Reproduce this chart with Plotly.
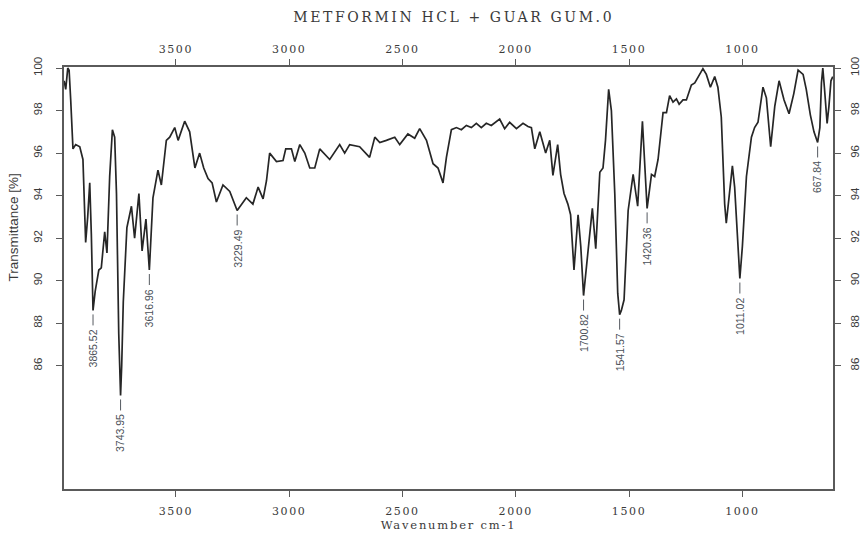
import plotly.graph_objects as go

# FTIR spectrum: wavenumber (cm-1) and transmittance (%)
wavenumber = [
    3993, 3986, 3977, 3971, 3964, 3954, 3942, 3924, 3910, 3898, 3889, 3880, 3873,
    3865.52, 3856, 3840, 3829, 3814, 3804, 3792, 3780, 3770, 3762, 3752, 3743.95,
    3739, 3732, 3726, 3716, 3696, 3682, 3663, 3649, 3632, 3616.96, 3601, 3579,
    3564, 3542, 3527, 3505, 3490, 3461, 3439, 3416, 3395, 3377, 3358, 3340, 3321,
    3292, 3262, 3229.49, 3189, 3160, 3137, 3115, 3100, 3086, 3056, 3027, 3015,
    2990, 2975, 2953, 2931, 2909, 2887, 2865, 2821, 2777, 2755, 2733, 2689, 2645,
    2622, 2600, 2571, 2534, 2512, 2476, 2446, 2424, 2394, 2365, 2343, 2321, 2306,
    2284, 2262, 2240, 2218, 2196, 2174, 2152, 2130, 2108, 2071, 2049, 2027, 1997,
    1968, 1946, 1931, 1916, 1894, 1868, 1850, 1836, 1815, 1802, 1787, 1770, 1758,
    1743, 1725, 1713, 1700.82, 1681, 1662, 1647, 1629, 1615, 1604, 1590, 1578,
    1563, 1550, 1541.57, 1534, 1522, 1504, 1482, 1462, 1441, 1420.36, 1401, 1387,
    1372, 1350, 1335, 1321, 1306, 1291, 1279, 1262, 1247, 1225, 1210, 1191, 1174,
    1159, 1141, 1122, 1108, 1093, 1086, 1078, 1071, 1059, 1044, 1034, 1019,
    1011.02, 1000, 982, 960, 946, 931, 909, 894, 875, 857, 838, 816, 794, 773,
    754, 732, 718, 700, 684, 667.84, 658, 651, 645, 638, 626, 618, 609, 601,
]
transmittance = [
    99.4, 99.0, 100.0, 99.9, 98.5, 96.2, 96.4, 96.3, 95.7, 91.8, 93.0, 94.6, 92.2,
    88.6, 89.5, 90.5, 90.6, 92.3, 91.3, 94.9, 97.1, 96.75, 94.1, 87.5, 84.6,
    86.0, 89.0, 90.6, 92.5, 93.5, 92.0, 94.1, 91.4, 92.9, 90.5, 93.9, 95.2,
    94.5, 96.6, 96.75, 97.2, 96.6, 97.5, 97.0, 95.3, 96.0, 95.3, 94.8, 94.6, 93.7,
    94.5, 94.2, 93.3, 93.9, 93.6, 94.4, 93.85, 94.7, 96.0, 95.6, 95.65, 96.2,
    96.2, 95.6, 96.4, 96.0, 95.3, 95.3, 96.2, 95.7, 96.4, 96.0, 96.4, 96.3, 95.8,
    96.75, 96.5, 96.6, 96.75, 96.4, 96.9, 96.7, 97.15, 96.6, 95.5, 95.3, 94.6, 95.8,
    97.1, 97.2, 97.1, 97.3, 97.2, 97.4, 97.2, 97.4, 97.3, 97.6, 97.15, 97.45, 97.15,
    97.4, 97.25, 97.2, 96.2, 97.0, 96.0, 96.6, 94.95, 96.4, 95.0, 94.1, 93.6, 93.1,
    90.5, 93.1, 91.6, 89.3, 91.3, 93.4, 91.5, 95.1, 95.3, 96.6, 99.0, 98.0,
    94.1, 89.4, 88.4, 88.6, 89.1, 93.3, 95.0, 93.5, 97.5, 93.4, 95.0, 94.9,
    95.7, 97.9, 97.9, 98.7, 98.4, 98.55, 98.3, 98.5, 98.5, 99.2, 99.3, 99.65, 99.97,
    99.7, 99.1, 99.6, 99.1, 97.7, 95.65, 93.6, 92.7, 93.8, 95.4, 94.4, 91.6,
    90.1, 91.6, 94.9, 96.75, 97.2, 97.45, 99.1, 98.6, 96.3, 98.2, 99.4, 98.5, 97.85, 98.8,
    99.9, 99.7, 99.0, 97.8, 97.0, 96.5, 97.2, 99.3, 100.0, 99.1, 97.4, 98.2, 99.4, 99.6,
]

# Picked absorption bands
peak_wavenumbers = [3865.52, 3743.95, 3616.96, 3229.49, 1700.82, 1541.57, 1420.36, 1011.02, 667.84]

# Axis ticks
x_ticks = [3500, 3000, 2500, 2000, 1500, 1000]
y_ticks = [100, 98, 96, 94, 92, 90, 88, 86]

title_text = "METFORMIN HCL + GUAR GUM.0"
x_title = "Wavenumber cm-1"
y_title = "Transmittance [%]"

X_RANGE = [3993.6, 600]
Y_RANGE = [80.2, 100.05]

AXIS_COLOR = "#5a5a5a"
TEXT_COLOR = "#3a3a3a"
SERIF = "DejaVu Serif"
SANS = "Liberation Sans"

fig = go.Figure()
fig.add_trace(go.Scatter(
    x=wavenumber, y=transmittance, mode="lines",
    line=dict(color="#262626", width=1.7),
    hoverinfo="x+y", showlegend=False,
))
# transparent copy that carries the top / right axes
fig.add_trace(go.Scatter(
    x=wavenumber, y=transmittance, mode="lines", xaxis="x2", yaxis="y2",
    line=dict(width=0), opacity=0, hoverinfo="skip", showlegend=False,
))

# chart title (annotation 0) and y-axis title (annotation 1)
fig.add_annotation(
    text=title_text, xref="paper", yref="paper", x=0.507, y=1, yshift=50,
    showarrow=False, xanchor="center", yanchor="middle",
    font=dict(family=SERIF, size=14, color=TEXT_COLOR),
)
fig.add_annotation(
    text=y_title, xref="paper", yref="y", x=0, xshift=-50, y=92.5,
    showarrow=False, textangle=-90, xanchor="center", yanchor="middle",
    font=dict(family=SANS, size=13.5, color=TEXT_COLOR),
)

# peak markers: short dash plus rotated wavenumber label under each band
lookup = dict(zip(wavenumber, transmittance))
for wn in peak_wavenumbers:
    t = lookup[wn]
    fig.add_shape(
        type="line", xref="x", yref="y", ysizemode="pixel", yanchor=t,
        x0=wn, x1=wn, y0=-4, y1=-15,
        line=dict(color="#555a60", width=1),
    )
    fig.add_annotation(
        x=wn, y=t, xref="x", yref="y", text=f"{wn:.2f}", showarrow=False,
        textangle=-90, yanchor="top", xanchor="center", yshift=-17,
        font=dict(family=SANS, size=10.5, color="#4a5058"),
    )

common_x = dict(
    range=X_RANGE, tickvals=x_ticks, ticktext=[str(v) for v in x_ticks],
    showgrid=False, zeroline=False, showline=True, linecolor=AXIS_COLOR, linewidth=1.6,
    ticks="outside", ticklen=6, tickwidth=1.2, tickcolor=AXIS_COLOR,
    tickfont=dict(family=SERIF, size=11, color=TEXT_COLOR), automargin=False,
)
common_y = dict(
    range=Y_RANGE, tickvals=y_ticks, ticktext=[str(v) for v in y_ticks],
    showgrid=False, zeroline=False, showline=True, linecolor=AXIS_COLOR, linewidth=1.6,
    ticks="outside", ticklen=6, tickwidth=1.2, tickcolor=AXIS_COLOR,
    tickfont=dict(family=SANS, size=11.5, color=TEXT_COLOR), tickangle=-90,
    automargin=False,
)

fig.update_layout(
    width=864, height=537,
    margin=dict(l=64, r=31, t=67, b=48, autoexpand=False),
    paper_bgcolor="white", plot_bgcolor="white",
    xaxis=dict(**common_x, side="bottom", ticklabelstandoff=5,
               title=dict(text=x_title, font=dict(family=SERIF, size=11.5, color=TEXT_COLOR), standoff=4)),
    xaxis2=dict(**common_x, side="top", overlaying="x", ticklabelstandoff=2),
    yaxis=dict(**common_y, side="left", ticklabelstandoff=10),
    yaxis2=dict(**common_y, side="right", overlaying="y", ticklabelstandoff=4),
    showlegend=False,
)

# widen the serif lettering (title, x tick labels, x title)
spacing_js = """
var gd = document.getElementById('{plot_id}');
function widen() {
  var t = gd.querySelector('.annotation[data-index="0"] text');
  if (t) { t.style.letterSpacing = '2.6px'; }
  gd.querySelectorAll('.xtick text, .x2tick text').forEach(function (e) {
    e.style.letterSpacing = '1.6px';
  });
  gd.querySelectorAll('.g-xtitle text').forEach(function (e) {
    e.style.letterSpacing = '1.8px';
  });
}
widen();
gd.on('plotly_afterplot', widen);
setTimeout(widen, 50);
"""

fig.write_html("out.html", post_script=spacing_js)
